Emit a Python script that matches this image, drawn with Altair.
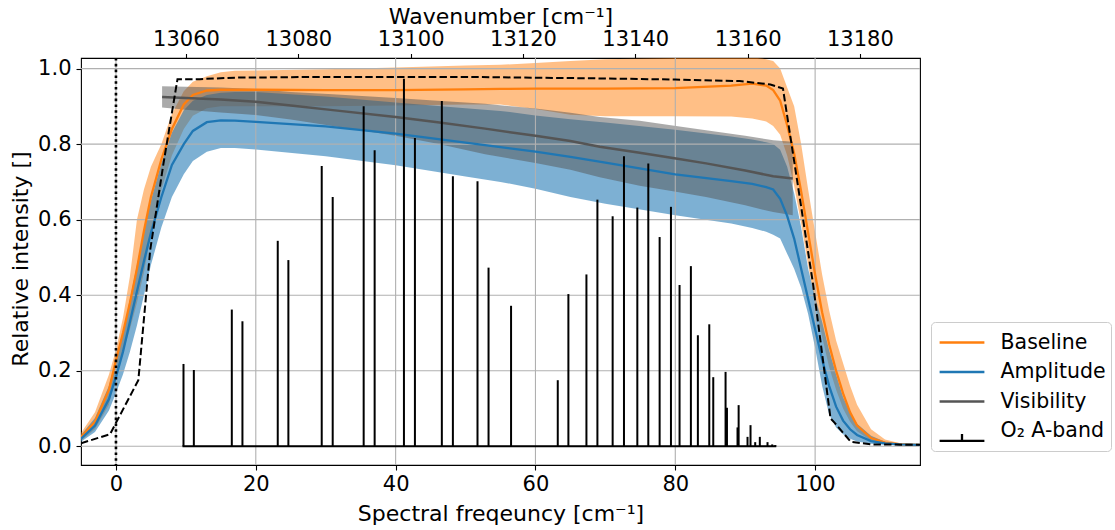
import altair as alt
import pandas as pd

# ---------------- data ----------------
grid_x = [-5, -3, -1, 0, 1, 2, 3, 4, 5, 6.5, 8, 9.7, 11, 13, 15, 17, 20, 30, 40, 50,
          55, 60, 65, 70, 80, 88, 91, 93, 94, 95, 96, 97, 98, 99, 100, 101, 102, 103, 104, 105,
          106, 108, 110, 112, 115]

baseline_mean = [0.025, 0.065, 0.15, 0.228, 0.3, 0.38, 0.47, 0.57, 0.66, 0.76, 0.84, 0.905, 0.93, 0.942, 0.944, 0.944, 0.944, 0.943, 0.943, 0.945,
                 0.946, 0.947, 0.947, 0.947, 0.948, 0.955, 0.96, 0.955, 0.943, 0.915, 0.85, 0.775, 0.675, 0.565, 0.455, 0.355, 0.27, 0.2, 0.14, 0.09,
                 0.055, 0.022, 0.01, 0.006, 0.004]
baseline_hi = [0.035, 0.09, 0.19, 0.255, 0.34, 0.45, 0.6, 0.68, 0.74, 0.8, 0.88, 0.94, 0.965, 0.98, 0.99, 0.994, 0.995, 0.998, 1.003, 1.008,
               1.01, 1.015, 1.02, 1.025, 1.028, 1.03, 1.03, 1.025, 1.02, 1.0, 0.95, 0.9, 0.8, 0.68, 0.567, 0.455, 0.36, 0.28, 0.22, 0.16,
               0.11, 0.045, 0.018, 0.009, 0.005]
baseline_lo = [0.015, 0.045, 0.11, 0.19, 0.25, 0.31, 0.38, 0.46, 0.56, 0.68, 0.77, 0.84, 0.875, 0.895, 0.9, 0.9, 0.9, 0.9, 0.902, 0.905,
               0.905, 0.893, 0.878, 0.874, 0.874, 0.873, 0.868, 0.86, 0.848, 0.825, 0.77, 0.69, 0.59, 0.48, 0.38, 0.29, 0.21, 0.15, 0.1, 0.065,
               0.04, 0.015, 0.007, 0.004, 0.003]

amplitude_mean = [0.02, 0.055, 0.125, 0.184, 0.25, 0.33, 0.41, 0.49, 0.565, 0.66, 0.745, 0.8, 0.835, 0.858, 0.863, 0.862, 0.859, 0.847, 0.828, 0.804,
                  0.792, 0.78, 0.766, 0.751, 0.72, 0.702, 0.695, 0.686, 0.68, 0.655, 0.61, 0.55, 0.47, 0.39, 0.31, 0.23, 0.16, 0.105, 0.068, 0.045,
                  0.03, 0.014, 0.008, 0.005, 0.004]
amplitude_hi = [0.03, 0.075, 0.16, 0.23, 0.3, 0.39, 0.48, 0.57, 0.65, 0.75, 0.83, 0.89, 0.915, 0.93, 0.936, 0.938, 0.938, 0.926, 0.91, 0.895,
                0.888, 0.876, 0.866, 0.857, 0.838, 0.82, 0.812, 0.805, 0.8, 0.785, 0.74, 0.67, 0.58, 0.47, 0.395, 0.33, 0.255, 0.19, 0.13, 0.09,
                0.06, 0.028, 0.012, 0.006, 0.004]
amplitude_lo = [0.012, 0.038, 0.095, 0.141, 0.19, 0.25, 0.32, 0.4, 0.48, 0.58, 0.66, 0.72, 0.755, 0.78, 0.79, 0.79, 0.786, 0.768, 0.744, 0.714,
                0.7, 0.682, 0.66, 0.642, 0.612, 0.59, 0.578, 0.568, 0.56, 0.55, 0.51, 0.47, 0.42, 0.35, 0.26, 0.16, 0.085, 0.05, 0.032, 0.02,
                0.013, 0.007, 0.004, 0.003, 0.002]

vis_x = [6.6, 10, 15, 20, 25, 31, 40, 46, 52.8, 60, 65, 69.2, 74.9, 80.1, 84.4, 90, 94, 96.8]
vis_mean = [0.925, 0.922, 0.918, 0.912, 0.902, 0.89, 0.872, 0.858, 0.841, 0.822, 0.808, 0.793, 0.777, 0.762, 0.749, 0.73, 0.715, 0.709]
vis_hi = [0.953, 0.952, 0.95, 0.946, 0.938, 0.932, 0.922, 0.915, 0.907, 0.894, 0.883, 0.872, 0.862, 0.848, 0.837, 0.822, 0.81, 0.806]
vis_lo = [0.897, 0.891, 0.884, 0.877, 0.865, 0.848, 0.822, 0.801, 0.773, 0.75, 0.732, 0.712, 0.69, 0.674, 0.66, 0.638, 0.62, 0.612]

model_x = [-5, -0.85, 3.2, 4.9, 6.8, 8.8, 12, 17, 30, 50, 69, 80, 89.2, 93.6, 95.4, 99.7, 102.2, 102.8, 105.1, 108, 115]
model_y = [0.008, 0.032, 0.175, 0.52, 0.749, 0.972, 0.972, 0.976, 0.978, 0.978, 0.974, 0.971, 0.967, 0.958, 0.947, 0.43, 0.074, 0.062, 0.012, 0.005, 0.004]

o2_x = [9.66, 11.14, 16.57, 18.09, 23.14, 24.66, 29.43, 31.0, 35.43, 37.0, 41.19, 42.76, 46.61, 48.19, 51.71, 53.29,
        56.51, 63.19, 64.71, 67.29, 68.86, 71.04, 72.66, 74.57, 76.14, 77.76, 79.38, 80.61, 82.23, 83.23, 84.86, 85.43,
        87.19, 87.39, 88.9, 89.06, 90.33, 90.76, 91.43, 92.09, 93.19, 93.86, 94.3]
o2_h = [0.218, 0.202, 0.362, 0.331, 0.544, 0.493, 0.742, 0.660, 0.900, 0.784, 0.973, 0.816, 0.914, 0.715, 0.702, 0.473,
        0.372, 0.175, 0.403, 0.455, 0.653, 0.609, 0.768, 0.632, 0.749, 0.554, 0.634, 0.427, 0.477, 0.294, 0.323, 0.183,
        0.197, 0.102, 0.05, 0.109, 0.025, 0.056, 0.011, 0.025, 0.011, 0.005, 0.003]

x_ticks = [0, 20, 40, 60, 80, 100]
y_ticks = [0.0, 0.2, 0.4, 0.6, 0.8, 1.0]
wn_ticks = [13060, 13080, 13100, 13120, 13140, 13160, 13180]

series_names = ["Baseline", "Amplitude", "Visibility", "O\u2082 A-band"]
series_colors = ["#ff7f0e", "#1f77b4", "#555555", "#000000"]

# ---------------- scales / axes ----------------
FONT = "DejaVu Sans"
TICK_FS = 21
TITLE_FS = 22
xs = alt.Scale(domain=[-5, 115], nice=False, zero=False)
ys = alt.Scale(domain=[-0.0495, 1.028], nice=False, zero=False)
x_axis = alt.Axis(values=x_ticks, format="d", grid=False, domain=False, tickColor="black", tickSize=5,
                  tickWidth=1.1, labelFontSize=TICK_FS, labelFont=FONT, labelColor="black",
                  labelBaseline="alphabetic", labelPadding=20.5,
                  title="Spectral freqeuncy [cm\u207b\u00b9]", titleFontSize=TITLE_FS, titleFont=FONT,
                  titleFontWeight="normal", titleColor="black", titleX=419.5, titleY=55,
                  titleAlign="center", titleBaseline="alphabetic")
y_axis = alt.Axis(values=y_ticks, format=".1f", grid=False, domain=False, tickColor="black", tickSize=5,
                  tickWidth=1.1, labelFontSize=TICK_FS, labelFont=FONT, labelColor="black", labelPadding=5,
                  title="Relative intensity []", titleFontSize=TITLE_FS, titleFont=FONT, titleFontWeight="normal",
                  titleColor="black", titleX=-61, titleY=200.5, titleAngle=270, titleAlign="center",
                  titleBaseline="middle")


def X(field):
    return alt.X(field, type="quantitative", scale=xs, axis=x_axis)


def Y(field):
    return alt.Y(field, type="quantitative", scale=ys, axis=y_axis)


band_df = pd.DataFrame({"x": grid_x,
                        "b_m": baseline_mean, "b_lo": baseline_lo, "b_hi": baseline_hi,
                        "a_m": amplitude_mean, "a_lo": amplitude_lo, "a_hi": amplitude_hi})
vis_df = pd.DataFrame({"x": vis_x, "m": vis_mean, "lo": vis_lo, "hi": vis_hi})
model_df = pd.DataFrame({"x": model_x, "y": model_y})
o2_df = pd.DataFrame({"x": o2_x, "h": o2_h, "zero": [0.0] * len(o2_x)})
xg_df = pd.DataFrame({"v": x_ticks})
yg_df = pd.DataFrame({"v": y_ticks})
zero_df = pd.DataFrame({"v": [0]})
wn_df = pd.DataFrame({"wn": wn_ticks, "y": [0.5] * len(wn_ticks)})
leg_df = pd.DataFrame({"series": series_names, "x": [-1000] * 4, "y": [0.5] * 4})

base = alt.Chart(band_df)

band_b = base.mark_area(color="#ff7f0e", opacity=0.5, clip=True).encode(x=X("x"), y=Y("b_lo"), y2="b_hi")
band_a = base.mark_area(color="#1f77b4", opacity=0.58, clip=True).encode(x=X("x"), y=Y("a_lo"), y2="a_hi")
band_v = alt.Chart(vis_df).mark_area(color="#555555", opacity=0.5, clip=True).encode(x=X("x"), y=Y("lo"), y2="hi")

grid_x_l = alt.Chart(xg_df).mark_rule(color="#b0b0b0", strokeWidth=1.1).encode(x=X("v"))
grid_y_l = alt.Chart(yg_df).mark_rule(color="#b0b0b0", strokeWidth=1.1).encode(y=Y("v"))

line_b = base.mark_line(color="#ff7f0e", strokeWidth=2.3, clip=True).encode(x=X("x"), y=Y("b_m"))
line_a = base.mark_line(color="#1f77b4", strokeWidth=2.3, clip=True).encode(x=X("x"), y=Y("a_m"))
line_v = alt.Chart(vis_df).mark_line(color="#555555", strokeWidth=2.5, clip=True).encode(x=X("x"), y=Y("m"))

sticks = alt.Chart(o2_df).mark_rule(color="black", strokeWidth=2).encode(x=X("x"), y=Y("zero"), y2="h")
stem_base = alt.Chart(o2_df).mark_rule(color="black", strokeWidth=2, strokeCap="square").encode(
    x=X("min(x)"), x2="max(x)", y=Y("min(zero)"))

model = alt.Chart(model_df).mark_line(color="black", strokeWidth=2, strokeDash=[7.4, 3.2], clip=True).encode(
    x=X("x"), y=Y("y"))
dotted = alt.Chart(zero_df).mark_rule(color="black", strokeWidth=2.6, strokeDash=[2.6, 3.2]).encode(x=X("v"))

leg = alt.Legend(orient="none", legendX=850, legendY=264, title=None, labelFontSize=20.5, labelFont=FONT,
                 labelColor="black", symbolSize=784, symbolStrokeWidth=2.3, symbolOffset=10.5, labelOffset=23,
                 padding=5, rowPadding=3.5, strokeColor="#cccccc", fillColor="white", cornerRadius=4,
                 symbolOpacity=1)
legend_layer = alt.Chart(leg_df).mark_point(filled=False, clip=True, opacity=1, strokeWidth=2.3).encode(
    x=X("x"), y=Y("y"),
    color=alt.Color("series:N", scale=alt.Scale(domain=series_names, range=series_colors), legend=leg),
    shape=alt.Shape("series:N", scale=alt.Scale(domain=series_names,
                                                range=["M-1.6,0H1.6", "M-1.6,0H1.6", "M-1.6,0H1.6",
                                                       "M-1.6,0.7H1.6M0,0.7V0.22"]), legend=leg),
)

main = alt.layer(band_b, band_a, band_v, grid_x_l, grid_y_l, line_b, line_a, line_v,
                 sticks, stem_base, model, dotted, legend_layer)

top = alt.Chart(wn_df).mark_point(opacity=0).encode(
    x=alt.X("wn:Q", scale=alt.Scale(domain=[13041.3, 13190.7], nice=False, zero=False),
            axis=alt.Axis(orient="top", values=wn_ticks, format="d", grid=False, domain=False,
                          tickColor="black", tickSize=4.5, tickWidth=1.1, labelFontSize=TICK_FS, labelFont=FONT,
                          labelColor="black", labelBaseline="alphabetic", labelPadding=8,
                          title="Wavenumber [cm\u207b\u00b9]", titleFontSize=TITLE_FS, titleFont=FONT,
                          titleFontWeight="normal", titleColor="black", titleX=419.5, titleY=-35,
                          titleAlign="center", titleBaseline="alphabetic")),
    y=Y("y"),
)

chart = alt.layer(main, top).resolve_scale(x="independent").properties(
    width=839, height=407,
    autosize=alt.AutoSizeParams(type="none"),
    padding={"left": 81, "top": 58, "right": 195, "bottom": 65},
).configure(font=FONT).configure_view(stroke="black", strokeWidth=1.1)

chart.save("out.html", embed_options={"renderer": "svg", "actions": False})
